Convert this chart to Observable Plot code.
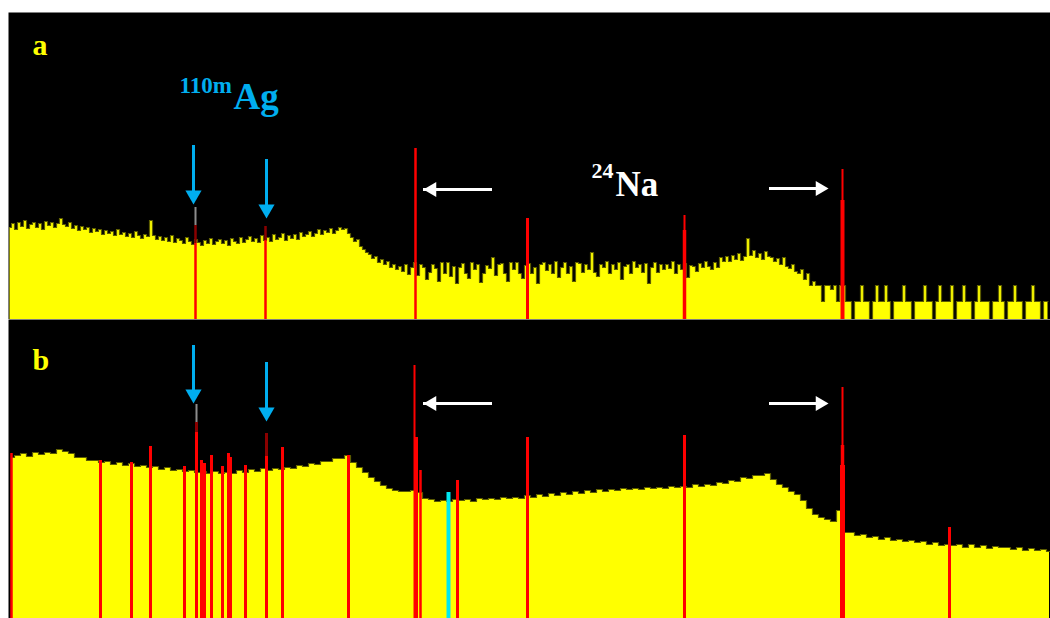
<!DOCTYPE html>
<html><head><meta charset="utf-8">
<script src="https://cdn.jsdelivr.net/npm/d3@7"></script>
<script src="https://cdn.jsdelivr.net/npm/@observablehq/plot@0.6"></script>
<style>body{margin:0;background:#fff;} #chart svg{display:block;}</style>
</head><body><div id="chart"></div>
<script>
// ---- spectrum (a): log counts per 3-channel bin (arbitrary units) ----
const binA = 3;
const countsA = [
 92,96,90,97,93,99,91,95,97,92,
 96,90,98,94,97,92,96,101,95,93,
 97,91,94,89,93,90,92,87,91,88,
 90,85,89,86,88,84,90,85,87,83,
 86,82,88,84,81,85,83,99,84,80,
 83,79,82,78,84,77,81,79,76,82,
 78,75,80,77,74,79,76,81,75,78,
 80,76,79,74,81,78,76,82,77,80,
 83,78,81,77,84,79,82,78,85,80,
 82,86,79,84,81,85,80,87,83,85,
 88,83,86,90,85,89,87,91,86,89,
 92,90,91,86,82,78,80,73,70,67,
 65,61,63,57,60,55,58,52,55,50,
 53,48,55,45,52,57,44,55,52,40,
 47,55,51,38,57,46,57,43,53,36,
 52,56,46,41,57,50,55,37,46,54,
 51,62,44,55,56,46,38,57,50,57,
 46,41,54,56,46,52,36,55,57,49,
 55,46,58,42,52,57,46,53,38,57,
 56,47,55,50,67,47,43,55,52,58,
 46,55,50,57,40,53,55,46,58,52,
 55,47,56,36,52,57,47,55,50,55,
 51,58,46,55,50,56,42,54,53,48,
 56,52,58,53,50,57,52,62,58,63,
 58,64,60,66,59,63,81,64,69,62,
 66,60,68,63,62,58,61,55,62,53,
 51,55,48,46,50,40,46,34,38,34,
 34,18,34,34,30,34,18,34,34,18,
 18,0,18,18,34,18,18,0,18,34,
 18,18,34,18,0,18,18,18,34,18,
 18,0,18,18,18,34,18,18,0,18,
 34,18,18,18,34,0,18,18,34,18,
 18,0,18,34,18,18,18,0,18,18,
 34,18,0,18,18,34,18,18,0,18,
 18,34,18,18,0,18,18
];
// ---- spectrum (b): log counts per 6-channel bin ----
const binB = 6;
const countsB = [
 161,163,165,162,166,164,166,165,169,167,
 165,161,161,158,158,156,157,154,156,153,
 155,152,153,151,152,149,151,148,149,147,
 148,146,147,145,147,145,146,145,148,146,
 149,147,150,148,150,149,151,150,153,152,
 155,154,157,157,160,160,163,156,151,146,
 141,137,133,130,128,127,127,128,126,120,
 119,117,118,117,119,118,119,117,120,119,
 120,119,121,120,121,120,123,121,124,122,
 125,123,126,124,127,125,128,126,129,127,
 129,128,130,129,130,129,131,130,131,130,
 132,131,132,131,134,132,134,133,136,135,
 138,137,141,140,143,143,145,139,134,131,
 127,124,118,110,104,101,99,97,108,86,
 86,83,84,81,82,79,81,78,79,77,
 78,76,77,74,76,73,74,73,74,71,
 74,71,73,70,72,71,71,69,71,68,
 70,68,69,67
];
// ---- full-energy peaks: channel, peak top, bright-core top, width (channels) ----
const peaksA = [
 {ch:187, top:94, core:76, fwhm:2.5},
 {ch:257, top:93, core:79, fwhm:2.5},
 {ch:407, top:171, fwhm:2.5},
 {ch:519, top:101, fwhm:3},
 {ch:676, top:104, fwhm:2},
 {ch:676, top:89, fwhm:3.5},
 {ch:834, top:150, fwhm:2},
 {ch:834, top:119, fwhm:4}
];
const peaksB = [
 {ch:3, top:165, fwhm:2.5},
 {ch:92, top:158, fwhm:3},
 {ch:123, top:156, fwhm:3},
 {ch:142, top:172, fwhm:3},
 {ch:176, top:152, fwhm:3},
 {ch:188, top:196, core:186, fwhm:3},
 {ch:193, top:158, fwhm:3},
 {ch:196, top:155, fwhm:3},
 {ch:203, top:163, fwhm:3},
 {ch:214, top:152, fwhm:3},
 {ch:220, top:165, fwhm:3},
 {ch:222, top:161, fwhm:3},
 {ch:237, top:153, fwhm:3},
 {ch:258, top:185, core:162, fwhm:3},
 {ch:274, top:171, fwhm:3},
 {ch:340, top:163, fwhm:3},
 {ch:406, top:253, fwhm:2},
 {ch:408, top:181, fwhm:3},
 {ch:412, top:148, fwhm:2.5},
 {ch:449, top:138, fwhm:3},
 {ch:519, top:181, fwhm:3},
 {ch:676, top:183, fwhm:3},
 {ch:834, top:231, fwhm:2},
 {ch:834, top:173, fwhm:3.5},
 {ch:834, top:153, fwhm:5},
 {ch:941, top:91, fwhm:3}
];
const cyanPeakB = [{ch:440, top:126, fwhm:4}];
const agTipA = [{ch:187, y1:94, y2:112}];
const agTipB = [{ch:188, y1:196, y2:214}];
// ---- annotations ----
const blueArrowsA = [{ch:185, tail:174, tip:115}, {ch:258, tail:160, tip:101}];
const blueArrowsB = [{ch:185, tail:273, tip:215}, {ch:258, tail:256, tip:197}];
const leftArrowsA = [{v:130, tail:475, tip:415}];
const rightArrowsA = [{v:131, tail:761, tip:820}];
const leftArrowsB = [{v:215, tail:475, tip:415}];
const rightArrowsB = [{v:215, tail:761, tip:820}];
const tagA = [{ch:24, v:265, t:"a"}];
const tagB = [{ch:24, v:249, t:"b"}];
const agSup = [{ch:171, v:227, t:"110m"}];
const agMain = [{ch:225, v:211, t:"Ag"}];
const naSup = [{ch:583, v:142, t:"24"}];
const naMain = [{ch:607, v:124, t:"Na"}];

const BLUE = "#00aeef", YEL = "#ffff00", RED = "#ff0000", DARKRED = "#8a0000", OLIVE = "#5c5c00";
const spec = (counts, bin) => counts.map((v, i) => ({ch: i * bin + bin / 2, v}));

function label(data, size, color) {
  return Plot.text(data, {x:"ch", y:"v", text:"t", fontSize:size, fill:color,
    fontFamily:"Liberation Serif", fontWeight:"bold", textAnchor:"start", lineAnchor:"bottom"});
}
function peakMarks(peaks) {
  return [
    Plot.ruleX(peaks, {x:"ch", y1:0, y2: d => d.core ?? d.top, stroke:RED, strokeWidth:"fwhm"}),
    Plot.ruleX(peaks.filter(d => d.core != null), {x:"ch", y1:"core", y2:"top", stroke:DARKRED, strokeWidth:"fwhm"})
  ];
}
function arrowMarks(blue, left, right) {
  return [
    Plot.ruleX(blue, {x:"ch", y1:"tail", y2:"tip", stroke:BLUE, strokeWidth:3, insetBottom:9}),
    Plot.dot(blue, {x:"ch", y:"tip", symbol:"triangle", r:6, rotate:180, dy:-9.3, fill:BLUE, stroke:null}),
    Plot.ruleY(left, {y:"v", x1:"tail", x2:"tip", stroke:"white", strokeWidth:3, insetLeft:9}),
    Plot.dot(left, {x:"tip", y:"v", symbol:"triangle", r:5.5, rotate:-90, dx:8.5, fill:"white", stroke:null}),
    Plot.ruleY(right, {y:"v", x1:"tail", x2:"tip", stroke:"white", strokeWidth:3, insetRight:9}),
    Plot.dot(right, {x:"tip", y:"v", symbol:"triangle", r:5.5, rotate:90, dx:-8.5, fill:"white", stroke:null})
  ];
}

const dataA = spec(countsA, binA);
const dataB = spec(countsB, binB);

const plotA = Plot.plot({
  width:1050, height:319, marginLeft:8, marginRight:0, marginTop:12, marginBottom:0,
  x:{domain:[0,1042], axis:null}, y:{domain:[0,307], axis:null},
  marks:[
    Plot.frame({fill:"black", stroke:null}),
    Plot.areaY(dataA, {x:"ch", y:"v", curve:"step", fill:YEL}),
    Plot.lineY(dataA, {x:"ch", y:"v", curve:"step", stroke:OLIVE, strokeWidth:1.2}),
    Plot.ruleY([0], {stroke:"#5a5a00"}),
    ...peakMarks(peaksA),
    Plot.ruleX(agTipA, {x:"ch", y1:"y1", y2:"y2", stroke:"#8c8c8c", strokeWidth:2}),
    ...arrowMarks(blueArrowsA, leftArrowsA, rightArrowsA),
    label(tagA, 30, YEL),
    label(agSup, 23, BLUE),
    label(agMain, 37, BLUE),
    label(naSup, 22, "white"),
    label(naMain, 35, "white")
  ]
});

const plotB = Plot.plot({
  width:1050, height:299, marginLeft:8, marginRight:0, marginTop:0, marginBottom:0,
  x:{domain:[0,1042], axis:null}, y:{domain:[0,299], axis:null},
  marks:[
    Plot.frame({fill:"black", stroke:null}),
    Plot.areaY(dataB, {x:"ch", y:"v", curve:"step", fill:YEL}),
    Plot.lineY(dataB, {x:"ch", y:"v", curve:"step", stroke:OLIVE, strokeWidth:1.2}),
    ...peakMarks(peaksB),
    Plot.ruleX(cyanPeakB, {x:"ch", y1:0, y2:"top", stroke:"#00e8f0", strokeWidth:"fwhm"}),
    Plot.ruleX(agTipB, {x:"ch", y1:"y1", y2:"y2", stroke:"#8c8c8c", strokeWidth:2}),
    ...arrowMarks(blueArrowsB, leftArrowsB, rightArrowsB),
    label(tagB, 30, YEL)
  ]
});

const root = document.getElementById("chart");
root.appendChild(plotA);
root.appendChild(plotB);
</script>
</body></html>
